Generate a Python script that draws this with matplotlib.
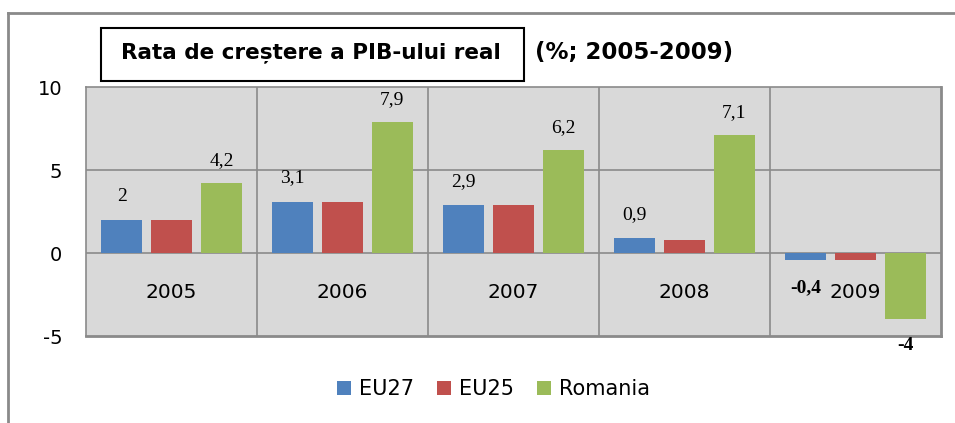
import matplotlib
matplotlib.use("Agg")
import matplotlib.pyplot as plt
from matplotlib.patches import Rectangle, Patch
from matplotlib.lines import Line2D
import numpy as np

years = ["2005", "2006", "2007", "2008", "2009"]
eu27 = [2, 3.1, 2.9, 0.9, -0.4]
eu25 = [2, 3.1, 2.9, 0.8, -0.4]
romania = [4.2, 7.9, 6.2, 7.1, -4]
eu27_labels = ["2", "3,1", "2,9", "0,9", "-0,4"]
romania_labels = ["4,2", "7,9", "6,2", "7,1", "-4"]
series_names = ["EU27", "EU25", "Romania"]
colors = ["#4F81BD", "#C0504D", "#9BBB59"]
yticks = [-5, 0, 5, 10]

W, H = 955, 423
fig = plt.figure(figsize=(W / 100, H / 100), dpi=100)
ax = fig.add_axes([86 / W, 1 - 336 / H, (941 - 86) / W, (336 - 87) / H])
ax.set_facecolor("#D9D9D9")

x = np.arange(len(years))
off = 0.292
bw = 0.236
for vals, c, dx in zip([eu27, eu25, romania], colors, [-off, 0, off]):
    ax.bar(x + dx, vals, width=bw, color=c, zorder=3)

ax.set_xlim(-0.5, len(years) - 0.5)
ax.set_ylim(-5, 10)
ax.set_yticks(yticks)
ax.set_yticklabels([str(t) for t in yticks], family="DejaVu Sans", fontsize=14)
ax.tick_params(axis="y", length=0, pad=17)
ax.set_xticks([])

grid_c = "#8A8A8A"
for yy in [0, 5]:
    ax.axhline(yy, color=grid_c, lw=1.2, zorder=1)
for xx in np.arange(0.5, len(years) - 0.5, 1):
    ax.axvline(xx, color=grid_c, lw=1.2, zorder=1)
for s in ["left", "top"]:
    ax.spines[s].set_color(grid_c)
    ax.spines[s].set_linewidth(1.2)
for s in ["right", "bottom"]:
    ax.spines[s].set_color(grid_c)
    ax.spines[s].set_linewidth(2)

# category labels inside plot
for i, yr in enumerate(years):
    ax.text(i, -2.35, yr, ha="center", va="center", family="DejaVu Sans",
            fontsize=14.5, zorder=4)

# data labels
for i, (v, lab) in enumerate(zip(eu27, eu27_labels)):
    if v >= 0:
        ax.annotate(lab, (i - off, v), xytext=(0, 17), textcoords="offset points",
                    ha="center", va="center", family="Liberation Serif", fontsize=14)
    else:
        ax.annotate(lab, (i - off, v), xytext=(0, -20), textcoords="offset points",
                    ha="center", va="center", family="Liberation Serif", fontsize=14,
                    weight="bold")
for i, (v, lab) in enumerate(zip(romania, romania_labels)):
    if v >= 0:
        ax.annotate(lab, (i + off, v), xytext=(0, 16), textcoords="offset points",
                    ha="center", va="center", family="Liberation Serif", fontsize=14)
    else:
        ax.annotate(lab, (i + off, v), xytext=(0, -19), textcoords="offset points",
                    ha="center", va="center", family="Liberation Serif", fontsize=14,
                    weight="bold", annotation_clip=False)

# chart border (top & left)
fig.add_artist(Line2D([8 / W, 1], [1 - 13 / H, 1 - 13 / H], color=grid_c, lw=2))
fig.add_artist(Line2D([8 / W, 8 / W], [0, 1 - 13 / H], color=grid_c, lw=2))

# title box
fig.add_artist(Rectangle((101 / W, 1 - 81 / H), (524 - 101) / W, (81 - 28) / H,
                         transform=fig.transFigure, facecolor="white",
                         edgecolor="black", lw=1.5))
fig.text(311 / W, 1 - 53 / H, "Rata de creștere a PIB-ului real", ha="center",
         va="center", family="DejaVu Sans", weight="bold", fontsize=15.5)
fig.text(634 / W, 1 - 52 / H, "(%; 2005-2009)", ha="center", va="center",
         family="DejaVu Sans", weight="bold", fontsize=16.5)

handles = [Patch(facecolor=c, edgecolor="none") for c in colors]
fig.legend(handles, series_names, loc="center", bbox_to_anchor=(493.5 / W, 1 - 389 / H),
           ncol=3, frameon=False, prop={"family": "DejaVu Sans", "size": 15},
           handlelength=0.67, handleheight=0.67, handletextpad=0.4, columnspacing=1.1)

fig.savefig("out.png", dpi=100)
